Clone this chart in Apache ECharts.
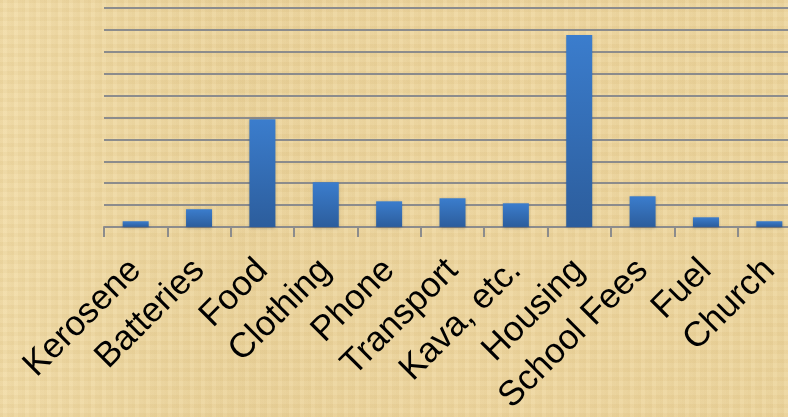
<!DOCTYPE html>
<html>
<head>
<meta charset="utf-8">
<script src="https://cdn.jsdelivr.net/npm/echarts@6/dist/echarts.min.js"></script>
<style>
html,body{margin:0;padding:0;}
#wrap{width:788px;height:417px;position:relative;overflow:hidden;
background-color:#ECD5A1;
background-image:
 repeating-linear-gradient(90deg, rgba(200,170,100,0.10) 0px, rgba(200,170,100,0.10) 3px, rgba(255,240,200,0.08) 3px, rgba(255,240,200,0.08) 7px, rgba(190,160,90,0.06) 7px, rgba(190,160,90,0.06) 11px),
 repeating-linear-gradient(0deg, rgba(200,170,100,0.08) 0px, rgba(200,170,100,0.08) 4px, rgba(255,240,200,0.08) 4px, rgba(255,240,200,0.08) 9px),
 linear-gradient(90deg, rgba(245,225,175,0.5) 0%, rgba(230,205,145,0.3) 30%, rgba(240,215,160,0.4) 60%, rgba(235,210,150,0.3) 100%);
}
#chart{width:801px;height:417px;position:absolute;left:0;top:0;}
</style>
</head>
<body>
<div id="wrap"><div id="chart"></div></div>
<script>
var categories = ['Kerosene','Batteries','Food','Clothing','Phone','Transport','Kava, etc.','Housing','School Fees','Fuel','Church'];
var values = [0.26, 0.81, 4.92, 2.04, 1.17, 1.31, 1.08, 8.77, 1.40, 0.44, 0.26];
var yMax = 10;
var yInterval = 1;

var chart = echarts.init(document.getElementById('chart'), null, {renderer:'canvas'});
chart.setOption({
  backgroundColor: 'transparent',
  animation: false,
  grid: {left: 104, right: 0, top: 8, bottom: 190, containLabel: false},
  xAxis: {
    type: 'category',
    data: categories,
    boundaryGap: true,
    axisLine: {show: true, lineStyle: {color: '#8C8C8C', width: 2}},
    axisTick: {show: true, length: 10, alignWithLabel: false, lineStyle: {color: '#8C8C8C', width: 2}},
    axisLabel: {
      interval: 0, rotate: 45, margin: 38,
      fontFamily: 'Liberation Sans, Arial, sans-serif', fontSize: 35, color: '#000'
    }
  },
  yAxis: {
    type: 'value', min: 0, max: yMax, interval: yInterval,
    axisLine: {show: false}, axisTick: {show: false}, axisLabel: {show: false},
    splitLine: {show: true, lineStyle: {color: '#8C8C8C', width: 2}}
  },
  series: [{
    type: 'bar',
    data: values,
    barWidth: 26,
    itemStyle: {
      color: new echarts.graphic.LinearGradient(0, 0, 0, 1, [
        {offset: 0, color: '#3B7DCD'},
        {offset: 1, color: '#2C5D9C'}
      ]),
      shadowColor: 'rgba(0,0,0,0.25)', shadowBlur: 3, shadowOffsetY: 1
    }
  }]
});
</script>
</body>
</html>
